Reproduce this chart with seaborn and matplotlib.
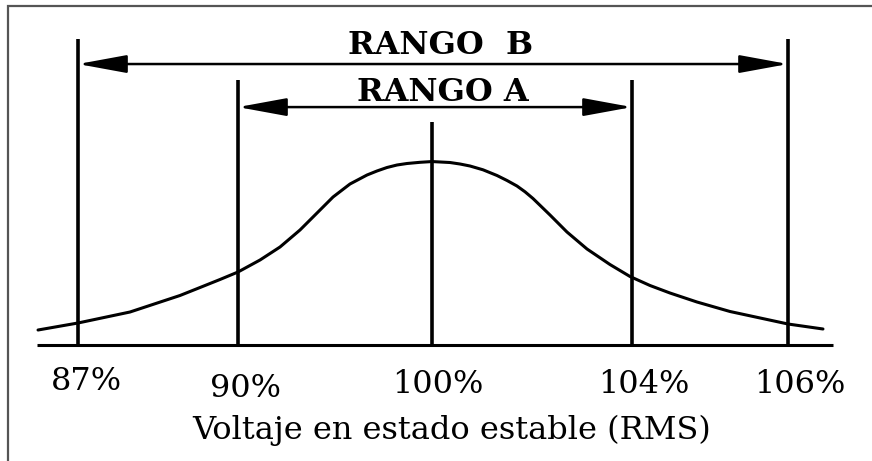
import numpy as np
import pandas as pd
import matplotlib.pyplot as plt
import seaborn as sns
from matplotlib.patches import Rectangle

# Schematic diagram: x is position along the axis (0-100), y is relative height (peak = 1)
levels = ['87%', '90%', '100%', '104%', '106%']
level_pos = [5.15, 25.25, 49.6, 74.75, 94.35]
line_top = [1.663, 1.44, 1.212, 1.44, 1.663]

ranges = ['RANGO  B', 'RANGO A']
range_from = [5.15, 25.25]
range_to = [94.35, 74.75]
range_y = [1.527, 1.293]

curve_x = [0.13, 5.15, 11.68, 17.96, 20.48, 22.99, 25.25, 28.02, 30.53, 33.04, 35.18,
           37.19, 39.32, 41.46, 42.71, 43.97, 45.23, 46.48, 48.12, 49.62, 51.88, 53.14,
           54.40, 56.03, 57.79, 59.05, 60.30, 61.31, 62.31, 64.45, 66.58, 69.10, 71.98,
           74.50, 77.01, 79.52, 82.91, 87.06, 94.35, 98.74]
curve_y = [0.0815, 0.1196, 0.1793, 0.2690, 0.3125, 0.3560, 0.3967, 0.4620, 0.5326, 0.6250,
           0.7174, 0.8043, 0.8750, 0.9239, 0.9457, 0.9647, 0.9783, 0.9864, 0.9929, 0.997,
           0.9918, 0.9837, 0.9728, 0.9522, 0.9212, 0.8940, 0.8641, 0.8326, 0.7962, 0.7065,
           0.6141, 0.5217, 0.4375, 0.3723, 0.3234, 0.2826, 0.2337, 0.1821, 0.1141, 0.0870]

xlabel = 'Voltaje en estado estable (RMS)'

df = pd.DataFrame({'pos': curve_x, 'rel': curve_y})

sns.set_theme(style='white')
plt.rcParams['font.family'] = ['DejaVu Serif']

fig = plt.figure(figsize=(8.72, 4.61), dpi=100)
ax = fig.add_axes([0, 0, 1, 1])
ax.set_xlim(-4.648, 104.90)
ax.set_ylim(-0.6304, 1.875)
ax.axis('off')

# outer frame of the scanned figure
fig.add_artist(Rectangle((8 / 872, -0.1), 1.2, 1.1 - 6 / 461, transform=fig.transFigure,
                         fill=False, edgecolor='#555555', lw=1.6))

# baseline, limit lines and curve
ax.hlines(0, 0, 100, color='black', lw=2.2)
ax.vlines(level_pos, 0, line_top, color='black', lw=2.6)
sns.lineplot(data=df, x='pos', y='rel', ax=ax, color='black', lw=2.2, sort=False,
             solid_joinstyle='round')

# range arrows
for name, x0, x1, y, ty in zip(ranges, range_from, range_to, range_y, [1.63, 1.37]):
    ax.annotate('', xy=(x1, y), xytext=(x0, y),
                arrowprops=dict(arrowstyle='<|-|>,head_length=3.0,head_width=0.55',
                                mutation_scale=10, color='black', lw=1.8,
                                shrinkA=0, shrinkB=0))
    ax.text((x0 + x1) / 2 + 1.0, ty, name, ha='center', va='center',
            fontsize=23, fontweight='bold', color='black')

# staggered tick labels
label_dx = [1.0, 0.9, 0.75, 1.5, 1.5]
label_y = [-0.20, -0.239, -0.217, -0.217, -0.212]
for lab, x, dx, y in zip(levels, level_pos, label_dx, label_y):
    ax.text(x + dx, y, lab, ha='center', va='center', fontsize=23, color='black')

ax.text(52.1, -0.462, xlabel, ha='center', va='center', fontsize=23, color='black')

fig.savefig('out.png', dpi=100)
